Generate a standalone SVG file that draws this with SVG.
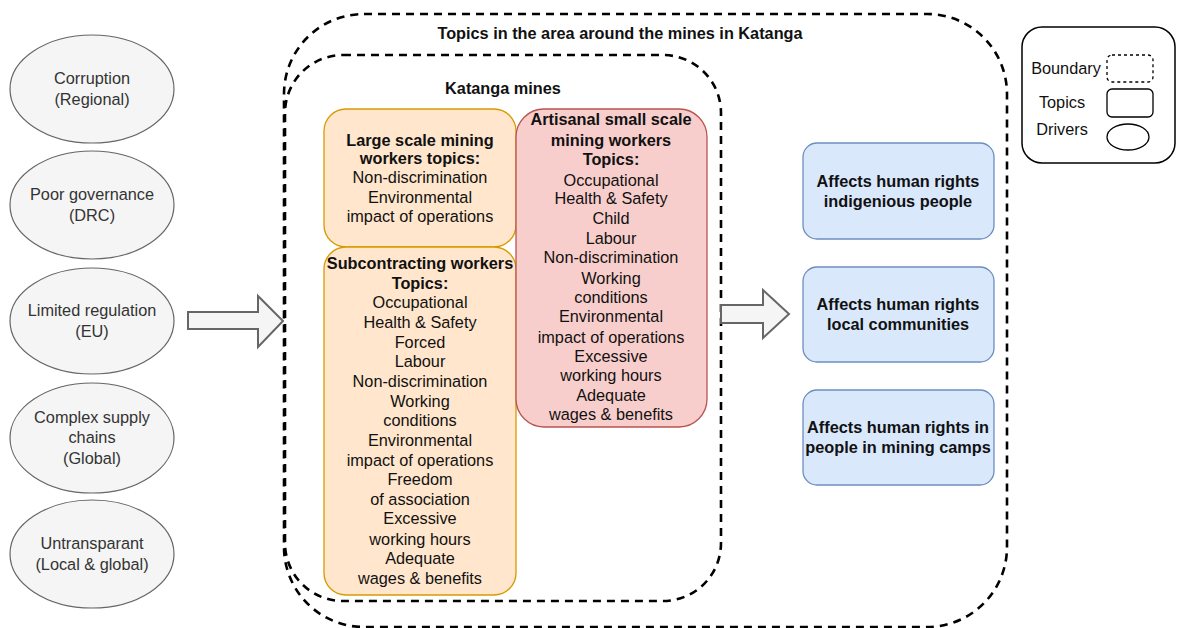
<svg xmlns="http://www.w3.org/2000/svg" width="1178" height="628" viewBox="0 0 1178 628">
  <style>
    text { font-family: "Liberation Sans", Arial, sans-serif; font-size: 16.3px; text-anchor: middle; fill: #111; }
    .b { font-weight: bold; }
    .drv ellipse { fill: #f5f5f5; stroke: #666; stroke-width: 1.2; }
    .drv text { fill: #333; }
    .bound { fill: none; stroke: #000; stroke-width: 2.6; stroke-dasharray: 8 6; }
    .orange { fill: #ffe6cc; stroke: #d79b00; stroke-width: 1.3; }
    .red { fill: #f8cecc; stroke: #b85450; stroke-width: 1.3; }
    .blue { fill: #dae8fc; stroke: #6c8ebf; stroke-width: 1.3; }
    .blk { fill: #f5f5f5; stroke: #666; stroke-width: 2; }
  </style>

  <!-- boundaries -->
  <g id="area-boundary">
    <rect class="bound" x="284" y="14" width="723" height="613" rx="80"/>
    <text class="b" x="620" y="39">Topics in the area around the mines in Katanga</text>
  </g>
  <g id="mines-boundary">
    <rect class="bound" x="285" y="55" width="436" height="546" rx="58"/>
    <text class="b" x="503" y="94">Katanga mines</text>
  </g>

  <!-- drivers -->
  <g id="driver-corruption" class="drv">
    <ellipse cx="92" cy="89" rx="82" ry="54"/>
    <text x="92" y="84">Corruption</text>
    <text x="92" y="105">(Regional)</text>
  </g>
  <g id="driver-governance" class="drv">
    <ellipse cx="92" cy="205" rx="82" ry="54"/>
    <text x="92" y="200">Poor governance</text>
    <text x="92" y="221">(DRC)</text>
  </g>
  <g id="driver-regulation" class="drv">
    <ellipse cx="92" cy="321" rx="82" ry="53"/>
    <text x="92" y="316">Limited regulation</text>
    <text x="92" y="337">(EU)</text>
  </g>
  <g id="driver-supply" class="drv">
    <ellipse cx="92" cy="438" rx="82" ry="55"/>
    <text x="92" y="423">Complex supply</text>
    <text x="92" y="443">chains</text>
    <text x="92" y="464">(Global)</text>
  </g>
  <g id="driver-transparency" class="drv">
    <ellipse cx="92" cy="554" rx="82" ry="54"/>
    <text x="92" y="549">Untransparant</text>
    <text x="92" y="570">(Local &amp; global)</text>
  </g>

  <!-- connectors -->
  <g id="connectors">
    <path class="blk" d="M188,312 L258,312 L258,296 L283,321 L258,347 L258,329 L188,329 Z"/>
    <path class="blk" d="M721,305 L763,305 L763,290 L789,314 L763,338 L763,323 L721,323 Z"/>
  </g>

  <!-- worker topics -->
  <g id="large-scale">
    <rect class="orange" x="324" y="109" width="192" height="138" rx="22"/>
    <text class="b" x="420" y="146">Large scale mining</text>
    <text class="b" x="420" y="164">workers topics:</text>
    <text x="420" y="183">Non-discrimination</text>
    <text x="420" y="203">Environmental</text>
    <text x="420" y="222">impact of operations</text>
  </g>
  <g id="subcontracting">
    <rect class="orange" x="324" y="247" width="192" height="348" rx="22"/>
    <text class="b" x="420" y="269">Subcontracting workers</text>
    <text class="b" x="420" y="289">Topics:</text>
    <text x="420" y="308">Occupational</text>
    <text x="420" y="328">Health &amp; Safety</text>
    <text x="420" y="348">Forced</text>
    <text x="420" y="367">Labour</text>
    <text x="420" y="387">Non-discrimination</text>
    <text x="420" y="407">Working</text>
    <text x="420" y="426">conditions</text>
    <text x="420" y="446">Environmental</text>
    <text x="420" y="466">impact of operations</text>
    <text x="420" y="485">Freedom</text>
    <text x="420" y="505">of association</text>
    <text x="420" y="524">Excessive</text>
    <text x="420" y="545">working hours</text>
    <text x="420" y="564">Adequate</text>
    <text x="420" y="584">wages &amp; benefits</text>
  </g>
  <g id="artisanal">
    <rect class="red" x="516" y="109" width="191" height="318" rx="28"/>
    <text class="b" x="611" y="125">Artisanal small scale</text>
    <text class="b" x="611" y="146">mining workers</text>
    <text class="b" x="611" y="165">Topics:</text>
    <text x="611" y="186">Occupational</text>
    <text x="611" y="204">Health &amp; Safety</text>
    <text x="611" y="224">Child</text>
    <text x="611" y="244">Labour</text>
    <text x="611" y="263">Non-discrimination</text>
    <text x="611" y="284">Working</text>
    <text x="611" y="303">conditions</text>
    <text x="611" y="322">Environmental</text>
    <text x="611" y="343">impact of operations</text>
    <text x="611" y="362">Excessive</text>
    <text x="611" y="381">working hours</text>
    <text x="611" y="401">Adequate</text>
    <text x="611" y="420">wages &amp; benefits</text>
  </g>

  <!-- affected groups -->
  <g id="indigenous">
    <rect class="blue" x="803" y="143" width="191" height="96" rx="14"/>
    <text class="b" x="898" y="187">Affects human rights</text>
    <text class="b" x="898" y="207">indigenious people</text>
  </g>
  <g id="communities">
    <rect class="blue" x="803" y="267" width="191" height="95" rx="14"/>
    <text class="b" x="898" y="310">Affects human rights</text>
    <text class="b" x="898" y="330">local communities</text>
  </g>
  <g id="camps">
    <rect class="blue" x="803" y="390" width="191" height="95" rx="14"/>
    <text class="b" x="898" y="433">Affects human rights in</text>
    <text class="b" x="898" y="453">people in mining camps</text>
  </g>

  <!-- legend -->
  <g id="legend">
    <rect x="1022" y="27" width="153" height="136" rx="20" fill="#fff" stroke="#000" stroke-width="1.5"/>
    <text x="1066" y="74">Boundary</text>
    <rect x="1107" y="55" width="46" height="27" rx="5" fill="none" stroke="#000" stroke-width="1.3" stroke-dasharray="3 3"/>
    <text x="1062" y="108">Topics</text>
    <rect x="1107" y="89" width="46" height="28" rx="5" fill="none" stroke="#000" stroke-width="1.3"/>
    <text x="1062" y="135">Drivers</text>
    <ellipse cx="1128" cy="137" rx="21" ry="13" fill="none" stroke="#000" stroke-width="1.3"/>
  </g>
</svg>
